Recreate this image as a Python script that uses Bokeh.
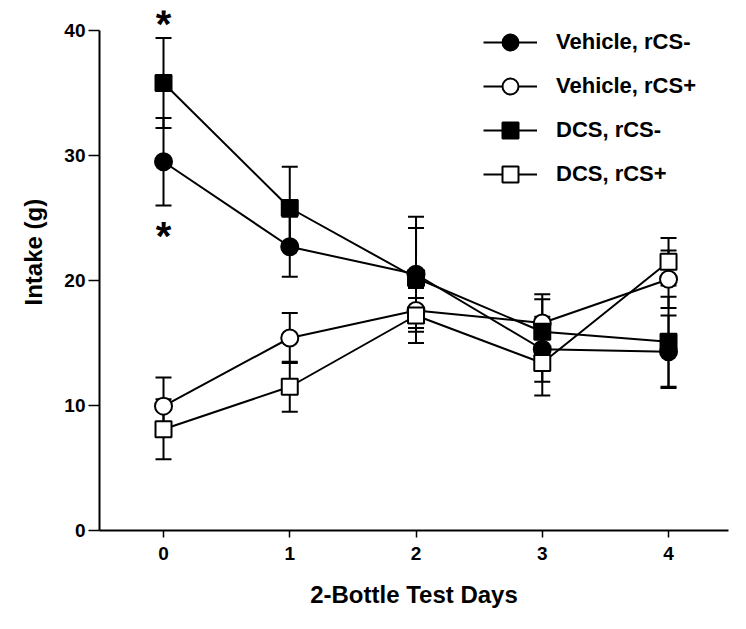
from bokeh.plotting import figure
from bokeh.embed import file_html
from bokeh.resources import INLINE
from bokeh.models import FixedTicker, Range1d, Legend, LegendItem, Title
from bokeh.core.properties import value

days = [0, 1, 2, 3, 4]
veh_minus = [29.5, 22.7, 20.5, 14.5, 14.3]
veh_minus_se = [3.5, 2.4, 4.6, 2.6, 2.9]
veh_plus = [9.95, 15.4, 17.6, 16.6, 20.1]
veh_plus_se = [2.3, 2.0, 1.0, 2.3, 2.3]
dcs_minus = [35.8, 25.8, 20.2, 15.9, 15.1]
dcs_minus_se = [3.6, 3.3, 4.0, 2.6, 3.6]
dcs_plus = [8.1, 11.5, 17.2, 13.4, 21.5]
dcs_plus_se = [2.4, 2.0, 2.2, 2.6, 1.9]
star_x = [0, 0]
star_y = [40.8, 23.8]
y_ticks = [0, 10, 20, 30, 40]
x_ticks = [0, 1, 2, 3, 4]

FONT = "Liberation Sans"

p = figure(width=730, height=613, output_backend="svg", toolbar_location=None,
           x_range=Range1d(-0.507, 4.475), y_range=Range1d(0, 41.6),
           min_border_left=99, min_border_right=2, min_border_top=10, min_border_bottom=83)
p.grid.visible = False
p.outline_line_color = None
p.background_fill_color = "white"
p.border_fill_color = "white"

series = [
    ("Vehicle, rCS-", veh_minus, veh_minus_se, "circle", "black"),
    ("Vehicle, rCS+", veh_plus, veh_plus_se, "circle", "white"),
    ("DCS, rCS-", dcs_minus, dcs_minus_se, "square", "black"),
    ("DCS, rCS+", dcs_plus, dcs_plus_se, "square", "white"),
]

# error bars
for name, vals, se, mk, fill in series:
    lo = [v - s for v, s in zip(vals, se)]
    hi = [v + s for v, s in zip(vals, se)]
    p.segment(x0=days, y0=lo, x1=days, y1=hi, line_color="black", line_width=2)
    p.scatter(x=days, y=lo, marker="dash", size=16, line_color="black", line_width=2)
    p.scatter(x=days, y=hi, marker="dash", size=16, line_color="black", line_width=2)

lines = {}
for name, vals, se, mk, fill in series:
    lines[name] = p.line(x=days, y=vals, line_color="black", line_width=2)

items = []
for name, vals, se, mk, fill in series:
    sz = 17 if mk == "circle" else 16
    r = p.scatter(x=days, y=vals, marker=mk, size=sz, fill_color=fill,
                  line_color="black", line_width=2)
    items.append(LegendItem(label=name, renderers=[lines[name], r]))

p.text(x=star_x, y=star_y, text=["*", "*"], text_font=value(FONT),
       text_font_style="bold", text_font_size="40px", text_align="center",
       text_baseline="middle", text_color="black", y_offset=3)

legend = Legend(items=items, location=(384, 336), margin=0, padding=0,
                border_line_color=None, background_fill_alpha=0,
                glyph_width=54, glyph_height=40, label_height=20, spacing=4,
                label_standoff=19, label_text_font=FONT, label_text_font_style="bold",
                label_text_font_size="22px", label_text_baseline="middle",
                label_text_color="black")
p.add_layout(legend, "center")

for ax in (p.xaxis, p.yaxis):
    ax.axis_line_width = 2
    ax.axis_line_color = "black"
    ax.major_tick_line_width = 1.5
    ax.major_tick_line_color = "black"
    ax.minor_tick_line_color = None
    ax.major_tick_in = 0
    ax.major_label_text_font = FONT
    ax.major_label_text_font_style = "bold"
    ax.major_label_text_font_size = "19px"
    ax.major_label_text_color = "black"
    ax.axis_label_text_font = FONT
    ax.axis_label_text_font_style = "bold"
    ax.axis_label_text_color = "black"
    ax.axis_label_text_font_size = "24px"

p.yaxis.ticker = FixedTicker(ticks=y_ticks)
p.yaxis.bounds = (0, 40)
p.yaxis.major_tick_out = 11
p.yaxis.major_label_standoff = 3

ytitle = Title(text="Intake (g)", align="left", offset=225, standoff=30,
               text_font=FONT, text_font_style="bold", text_font_size="24px",
               text_color="black")
p.add_layout(ytitle, "left")

p.xaxis.ticker = FixedTicker(ticks=x_ticks)
p.xaxis.major_tick_out = 7
p.xaxis.major_label_standoff = 9
p.xaxis.axis_label = "2-Bottle Test Days"
p.xaxis.axis_label_standoff = 18

open("out.html", "w").write(file_html(p, INLINE))
